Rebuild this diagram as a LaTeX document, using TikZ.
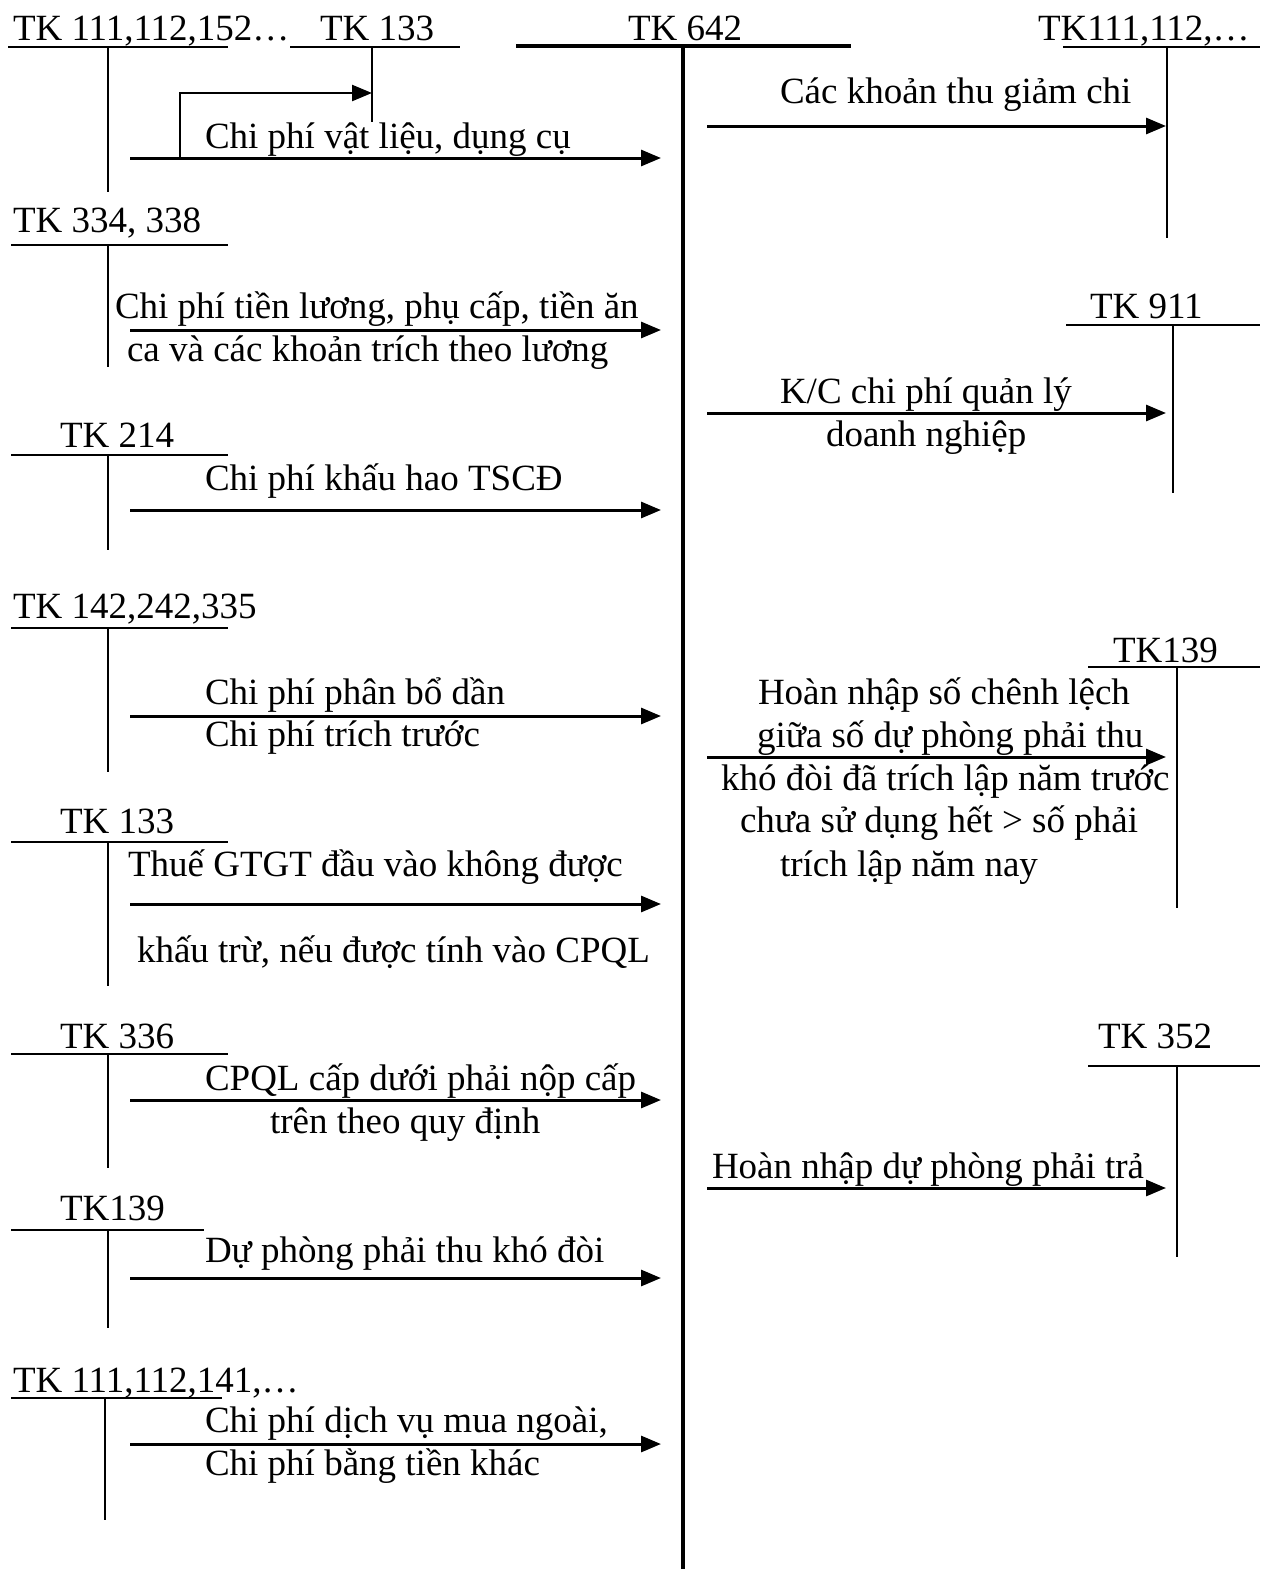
\documentclass[tikz,border=0pt]{standalone}
\usepackage{fontspec}
\setmainfont{Liberation Serif}
\usetikzlibrary{arrows.meta}
\begin{document}
\begin{tikzpicture}[x=1pt,y=-1pt,
  lbl/.style={anchor=base west,inner sep=0pt,outer sep=0pt,font=\fontsize{37}{43}\selectfont},
  acc/.style={line width=2pt},
  main/.style={line width=4.4pt},
  flow/.style={line width=3pt,-{Triangle[length=20pt,width=16pt]}}]
\useasboundingbox (0,0) rectangle (1273,1569);
% ---- central account TK 642
\node[lbl] (t642) at (628,40) {TK 642};
\draw[main] (516,46) -- (851,46);
\draw[main] (683,46) -- (683,1569);
% ---- TK 111,112,152...
\node[lbl] (a1) at (13,40) {TK 111,112,152…};
\draw[acc] (8,47) -- (228,47);
\draw[acc] (108,47) -- (108,192);
\node[lbl] (a133) at (320,40) {TK 133};
\draw[acc] (290,47) -- (460,47);
\draw[acc] (372,47) -- (372,122);
\coordinate (s1) at (130,158);
\coordinate (e1) at (661,158);
\coordinate (b1) at (180,158);
\coordinate (c133) at (372,93);
\draw[flow] (s1) -- (e1);
\draw[flow,line width=2.4pt] (b1) |- (c133);
\node[lbl] (l1) at (205,148) {Chi phí vật liệu, dụng cụ};
% ---- right TK111,112
\node[lbl] (r1) at (1038,40) {TK111,112,…};
\draw[acc] (1063,47) -- (1260,47);
\draw[acc] (1167,47) -- (1167,238);
\coordinate (rs1) at (707,126);
\coordinate (re1) at (1166,126);
\draw[flow] (rs1) -- (re1);
\node[lbl] (rl1) at (780,103) {Các khoản thu giảm chi};
% ---- TK 334, 338
\node[lbl] (a2) at (13,232) {TK 334, 338};
\draw[acc] (11,245) -- (228,245);
\draw[acc] (108,245) -- (108,367);
\coordinate (s2) at (130,330);
\coordinate (e2) at (661,330);
\draw[flow] (s2) -- (e2);
\node[lbl] (l2a) at (115,318) {Chi phí tiền lương, phụ cấp, tiền ăn};
\node[lbl] (l2b) at (127,361) {ca và các khoản trích theo lương};
% ---- TK 911
\node[lbl] (r2) at (1090,318) {TK 911};
\draw[acc] (1066,325) -- (1260,325);
\draw[acc] (1173,325) -- (1173,493);
\coordinate (rs2) at (707,413);
\coordinate (re2) at (1166,413);
\draw[flow] (rs2) -- (re2);
\node[lbl] (rl2a) at (780,403) {K/C chi phí quản lý};
\node[lbl] (rl2b) at (826,446) {doanh nghiệp};
% ---- TK 214
\node[lbl] (a3) at (60,447) {TK 214};
\draw[acc] (11,455) -- (228,455);
\draw[acc] (108,455) -- (108,550);
\coordinate (s3) at (130,510);
\coordinate (e3) at (661,510);
\draw[flow] (s3) -- (e3);
\node[lbl] (l3) at (205,490) {Chi phí khấu hao TSCĐ};
% ---- TK 142,242,335
\node[lbl] (a4) at (13,618) {TK 142,242,335};
\draw[acc] (11,628) -- (228,628);
\draw[acc] (108,628) -- (108,772);
\coordinate (s4) at (130,716);
\coordinate (e4) at (661,716);
\draw[flow] (s4) -- (e4);
\node[lbl] (l4a) at (205,704) {Chi phí phân bổ dần};
\node[lbl] (l4b) at (205,746) {Chi phí trích trước};
% ---- right TK139
\node[lbl] (r3) at (1113,662) {TK139};
\draw[acc] (1088,667) -- (1260,667);
\draw[acc] (1177,667) -- (1177,908);
\coordinate (rs3) at (707,757);
\coordinate (re3) at (1166,757);
\draw[flow] (rs3) -- (re3);
\node[lbl] (rl3a) at (758,704) {Hoàn nhập số chênh lệch};
\node[lbl] (rl3b) at (757,747) {giữa số dự phòng phải thu};
\node[lbl] (rl3c) at (721,790) {khó đòi đã trích lập năm trước};
\node[lbl] (rl3d) at (740,832) {chưa sử dụng hết > số phải};
\node[lbl] (rl3e) at (780,876) {trích lập năm nay};
% ---- TK 133 (second)
\node[lbl] (a5) at (60,833) {TK 133};
\draw[acc] (11,842) -- (228,842);
\draw[acc] (108,842) -- (108,986);
\coordinate (s5) at (130,904);
\coordinate (e5) at (661,904);
\draw[flow] (s5) -- (e5);
\node[lbl] (l5a) at (128,876) {Thuế GTGT đầu vào không được};
\node[lbl] (l5b) at (137,962) {khấu trừ, nếu được tính vào CPQL};
% ---- TK 336
\node[lbl] (a6) at (60,1048) {TK 336};
\draw[acc] (11,1054) -- (228,1054);
\draw[acc] (108,1054) -- (108,1168);
\coordinate (s6) at (130,1100);
\coordinate (e6) at (661,1100);
\draw[flow] (s6) -- (e6);
\node[lbl] (l6a) at (205,1090) {CPQL cấp dưới phải nộp cấp};
\node[lbl] (l6b) at (270,1133) {trên theo quy định};
% ---- TK 352
\node[lbl] (r4) at (1098,1048) {TK 352};
\draw[acc] (1088,1066) -- (1260,1066);
\draw[acc] (1177,1066) -- (1177,1257);
\coordinate (rs4) at (707,1188);
\coordinate (re4) at (1166,1188);
\draw[flow] (rs4) -- (re4);
\node[lbl] (rl4) at (712,1178) {Hoàn nhập dự phòng phải trả};
% ---- TK139 left
\node[lbl] (a7) at (60,1220) {TK139};
\draw[acc] (11,1230) -- (204,1230);
\draw[acc] (108,1230) -- (108,1328);
\coordinate (s7) at (130,1278);
\coordinate (e7) at (661,1278);
\draw[flow] (s7) -- (e7);
\node[lbl] (l7) at (205,1262) {Dự phòng phải thu khó đòi};
% ---- TK 111,112,141
\node[lbl] (a8) at (13,1392) {TK 111,112,141,…};
\draw[acc] (11,1398) -- (222,1398);
\draw[acc] (105,1398) -- (105,1520);
\coordinate (s8) at (130,1444);
\coordinate (e8) at (661,1444);
\draw[flow] (s8) -- (e8);
\node[lbl] (l8a) at (205,1432) {Chi phí dịch vụ mua ngoài,};
\node[lbl] (l8b) at (205,1475) {Chi phí bằng tiền khác};
\end{tikzpicture}
\end{document}
